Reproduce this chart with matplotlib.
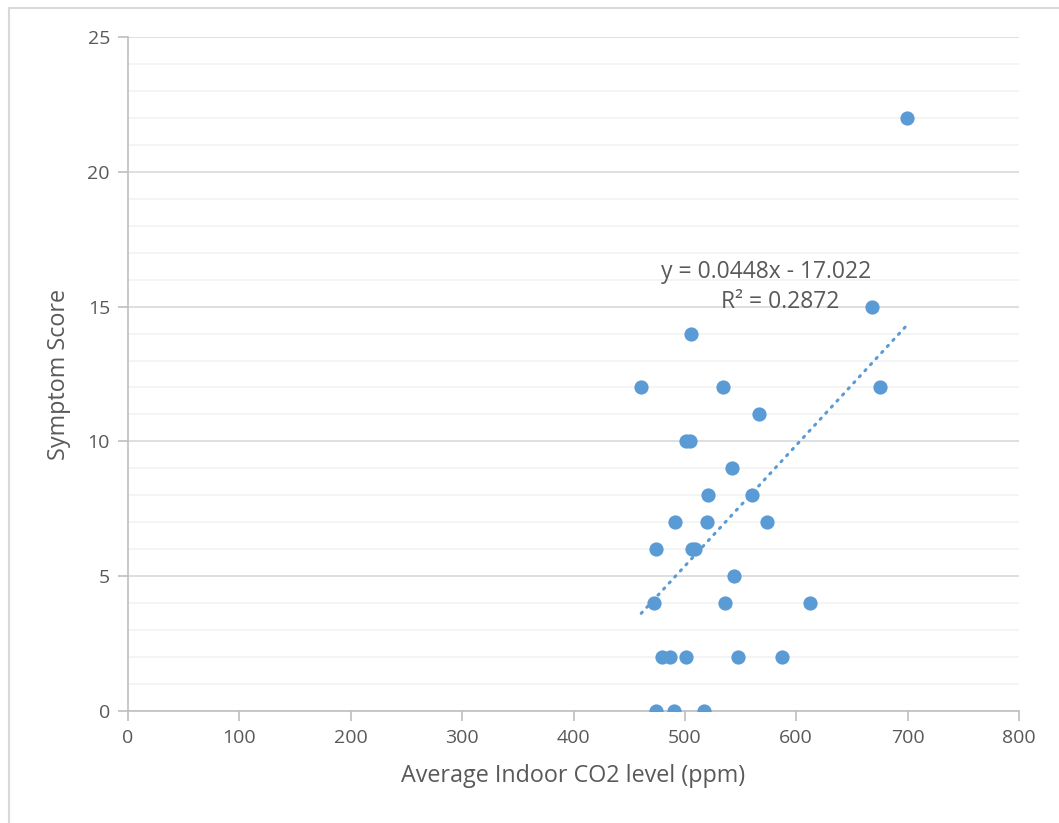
import numpy as np
import matplotlib.pyplot as plt
from matplotlib.patches import Rectangle

# data
co2 = [699.4, 668.0, 675.2, 505.1, 460.8, 534.4, 566.2, 500.6, 504.2, 542.5,
       520.7, 559.9, 491.3, 519.5, 573.6, 473.7, 506.0, 509.0, 544.3,
       471.9, 536.2, 612.2, 479.6, 486.5, 501.2, 547.9, 587.4,
       474.4, 490.4, 516.8]
score = [22, 15, 12, 14, 12, 12, 11, 10, 10, 9,
         8, 8, 7, 7, 7, 6, 6, 6, 5,
         4, 4, 4, 2, 2, 2, 2, 2,
         0, 0, 0]
slope = 0.0448
intercept = -17.022
r2 = 0.2872

plt.rcParams['font.family'] = ['Open Sans', 'DejaVu Sans']
txt = '#595959'
blue = '#5B9BD5'

fig = plt.figure(figsize=(10.59, 8.23), dpi=100)
ax = fig.add_axes([128/1059, 1-711/823, 891/1059, 674/823])

# chart border
fig.patches.append(Rectangle((9/1059, -0.1), 1.2, 1-8/823+0.1, transform=fig.transFigure,
                             fill=False, edgecolor='#D9D9D9', linewidth=1.5))

ax.set_xlim(0, 800)
ax.set_ylim(0, 25)
ax.set_xticks(np.arange(0, 801, 100))
ax.set_yticks(np.arange(0, 26, 5))
ax.set_yticks(np.arange(0, 26, 1), minor=True)
ax.grid(axis='y', which='minor', color='#F2F2F2', linewidth=1.2)
ax.grid(axis='y', which='major', color='#D9D9D9', linewidth=1.2)
ax.set_axisbelow(True)

for s in ['top', 'right']:
    ax.spines[s].set_visible(False)
for s in ['left', 'bottom']:
    ax.spines[s].set_color('#BFBFBF')
    ax.spines[s].set_linewidth(1.2)
ax.tick_params(axis='both', which='major', color='#BFBFBF', length=7, width=1.2,
               labelsize=14, labelcolor=txt, pad=6)
ax.tick_params(axis='y', which='minor', length=0)

ax.scatter(co2, score, s=105, color=blue, zorder=3, linewidths=0)

# linear trendline
xt = np.array([min(co2), max(co2)])
ax.plot(xt, slope*xt + intercept, color=blue, linewidth=2.2,
        linestyle=(0, (0.5, 2.2)), dash_capstyle='round', zorder=2)

ax.text(572.8, 16.28, f'y = {slope}x - {-intercept}', ha='center', va='center',
        fontsize=16.5, color=txt)
ax.text(585.4, 15.17, f'R² = {r2}', ha='center', va='center',
        fontsize=16.5, color=txt)

ax.set_xlabel('Average Indoor CO2 level (ppm)', fontsize=16.8, color=txt, labelpad=12)
ax.set_ylabel('Symptom Score', fontsize=16.8, color=txt, labelpad=12)

fig.savefig('out.png', dpi=100)
